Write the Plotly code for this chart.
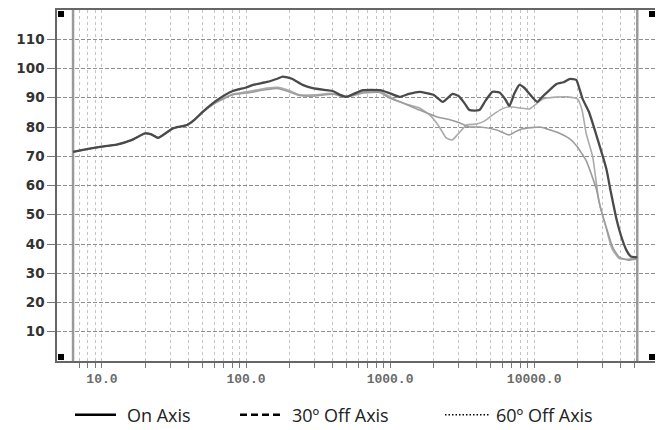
import plotly.graph_objects as go

# ---------------- data ----------------
on_freq = [6.3, 8, 9.7, 12.7, 16, 19.9, 22, 24.5, 27, 31, 39, 44, 50, 63, 81, 100, 112, 140, 165, 180,
           208, 247, 290, 362, 400, 450, 500, 570, 650, 850, 1000, 1170, 1350, 1600, 2000, 2320, 2720,
           3000, 3300, 3550, 4170, 4600, 5130, 5750, 6300, 6730, 7300, 7900, 8500, 9300, 10500, 11500,
           12800, 14300, 16000, 17600, 19600, 20500, 21700, 24000, 27000, 31700, 34000, 37500, 40000,
           43600, 47000, 52000]
on_db = [71.5, 72.5, 73.2, 74.0, 75.5, 77.8, 77.5, 76.3, 77.5, 79.5, 80.7, 82.5, 85.2, 89.2, 92.3, 93.5,
         94.4, 95.4, 96.5, 97.2, 96.5, 94.4, 93.3, 92.6, 92.3, 91.0, 90.3, 91.5, 92.6, 92.6, 91.5, 90.3,
         91.3, 92.0, 91.0, 88.6, 91.3, 90.5, 88.0, 85.8, 85.8, 89.0, 92.0, 91.8, 89.5, 87.2, 91.5, 94.4,
         93.5, 91.3, 88.6, 90.5, 92.6, 94.7, 95.3, 96.4, 96.1, 93.5, 89.6, 85.2, 77.3, 65.7, 58.0, 48.0,
         43.0, 38.0, 35.7, 35.4]

off30_freq = [6.3, 8, 9.7, 12.7, 16, 19.9, 22, 24.5, 27, 31, 39, 44, 50, 63, 81, 100, 140, 165, 200,
              234, 300, 400, 500, 650, 850, 1000, 1140, 1300, 1600, 1900, 2200, 2450, 2700, 2950, 3400,
              4000, 4500, 5100, 6000, 6730, 8000, 9300, 11500, 14000, 17000, 20000, 21500, 23000, 25500,
              28200, 31700, 34700, 39000, 45000, 52000]
off30_db = [71.5, 72.5, 73.2, 74.0, 75.5, 77.8, 77.5, 76.3, 77.5, 79.5, 80.7, 82.5, 85.0, 88.8, 91.3,
            92.0, 93.3, 93.6, 92.5, 91.0, 91.0, 91.5, 90.5, 92.0, 92.0, 90.3, 88.8, 87.8, 86.5, 84.0,
            80.0, 76.3, 75.6, 77.5, 80.7, 81.0, 82.0, 84.0, 86.2, 86.9, 86.5, 86.2, 89.6, 90.2, 90.3,
            89.6, 85.8, 77.7, 69.8, 54.5, 45.3, 38.4, 35.0, 34.8, 35.2]

off60_freq = [6.3, 8, 9.7, 12.7, 16, 19.9, 22, 24.5, 27, 31, 39, 44, 50, 63, 81, 100, 140, 165, 200,
              234, 300, 400, 500, 650, 850, 1000, 1170, 1600, 2100, 2600, 3000, 3550, 4200, 5500, 6700,
              7500, 8300, 11000, 12500, 14300, 17600, 20000, 21700, 23000, 27000, 29000, 32000, 35000,
              39000, 45000, 52000]
off60_db = [71.5, 72.5, 73.2, 74.0, 75.5, 77.8, 77.5, 76.3, 77.5, 79.5, 80.7, 82.5, 85.0, 88.5, 91.0,
            91.6, 92.8, 93.2, 92.0, 90.8, 90.6, 91.2, 90.2, 91.6, 91.8, 89.8, 88.6, 85.8, 83.5, 82.5,
            81.5, 80.0, 80.0, 79.0, 77.3, 78.5, 79.4, 80.0, 79.2, 78.3, 76.0, 73.2, 70.5, 68.5, 58.9,
            52.0, 45.0, 39.0, 35.5, 34.5, 35.0]

series_names = ["On Axis", "30º Off Axis", "60º Off Axis"]
y_ticks = [10, 20, 30, 40, 50, 60, 70, 80, 90, 100, 110]
x_major = [10, 100, 1000, 10000]
x_major_text = ["10.0", "100.0", "1000.0", "10000.0"]
measure_bounds = [6.3, 52000]

# ---------------- figure ----------------
x_vals = []
for dec in [1, 10, 100, 1000, 10000]:
    for m in range(1, 10):
        v = dec * m
        if 7 <= v <= 50000:
            x_vals.append(v)
x_text = [x_major_text[x_major.index(v)] if v in x_major else "" for v in x_vals]

fig = go.Figure()
styles = [dict(color="#4a4a4a", width=2.3), dict(color="#ababab", width=1.6), dict(color="#9c9c9c", width=1.6)]
traces = []
for fr, db, nm, st in zip([on_freq, off30_freq, off60_freq], [on_db, off30_db, off60_db], series_names, styles):
    traces.append(go.Scatter(x=fr, y=db, mode="lines", name=nm,
                             line=dict(shape="spline", smoothing=0.5, **st), showlegend=False))
# draw on-axis last so it sits on top
for t in traces[1:] + traces[:1]:
    fig.add_trace(t)

# page body has an 8px margin, so the figure is sized to fill the rest of the window
fig.update_layout(
    width=655, height=422,
    margin=dict(l=49, r=7, t=0, b=69),
    paper_bgcolor="white", plot_bgcolor="white",
    xaxis=dict(type="log", range=[0.688, 4.846], tickvals=x_vals, ticktext=x_text,
               showgrid=True, gridcolor="#c4c4c4", griddash="dot", gridwidth=1,
               ticks="outside", ticklen=5, tickcolor="#777",
               showline=True, linecolor="#666", linewidth=1.5, mirror=True,
               tickfont=dict(family="Liberation Mono", size=13, color="#6a6a6a", weight="bold"),
               zeroline=False),
    yaxis=dict(range=[0, 120], tickvals=y_ticks, showgrid=True, gridcolor="#8e8e8e", griddash="4px,2px",
               gridwidth=1, ticks="outside", ticklen=8, tickcolor="#777",
               showline=True, linecolor="#666", linewidth=1.5, mirror=True,
               tickfont=dict(family="DejaVu Sans", size=13.5, color="#333", weight="bold"), zeroline=False),
)

# thick vertical lines marking the measurement range
for b in measure_bounds:
    fig.add_shape(type="line", xref="x", yref="paper", x0=b, x1=b, y0=0, y1=1,
                  line=dict(color="#9a9a9a", width=2.5), layer="below")

# black corner squares
for xa, ya, xs, ys in [(0, 1, 1, -1), (0, 0, 1, 1), (1, 1, -1, -1), (1, 0, -1, 1)]:
    fig.add_shape(type="rect", xref="paper", yref="paper", xsizemode="pixel", ysizemode="pixel",
                  xanchor=xa, yanchor=ya, x0=xs * 1, x1=xs * 7, y0=ys * 1, y1=ys * 7,
                  fillcolor="black", line=dict(width=0))

# custom legend (positions in page pixels, converted to paper units)
leg_line_x = [(75, 116), (240, 282), (445, 490)]
leg_text_x = [125, 290, 494]
leg_dash = ["solid", "7px,4px", "1.5px,2px"]
leg_width = [2.5, 2.5, 1.5]
plot_l, plot_w, plot_b, plot_h = 57, 599, 361, 353
leg_y = -(415 - plot_b) / plot_h
for (x0, x1), tx, ds, w, nm in zip(leg_line_x, leg_text_x, leg_dash, leg_width, series_names):
    fig.add_shape(type="line", xref="paper", yref="paper",
                  x0=(x0 - plot_l) / plot_w, x1=(x1 - plot_l) / plot_w, y0=leg_y, y1=leg_y,
                  line=dict(color="black", width=w, dash=ds))
    fig.add_annotation(xref="paper", yref="paper", x=(tx - plot_l) / plot_w, y=leg_y, text=nm,
                       showarrow=False, xanchor="left", yanchor="middle",
                       font=dict(family="Open Sans", size=18, color="#222"))

fig.write_html("out.html")
